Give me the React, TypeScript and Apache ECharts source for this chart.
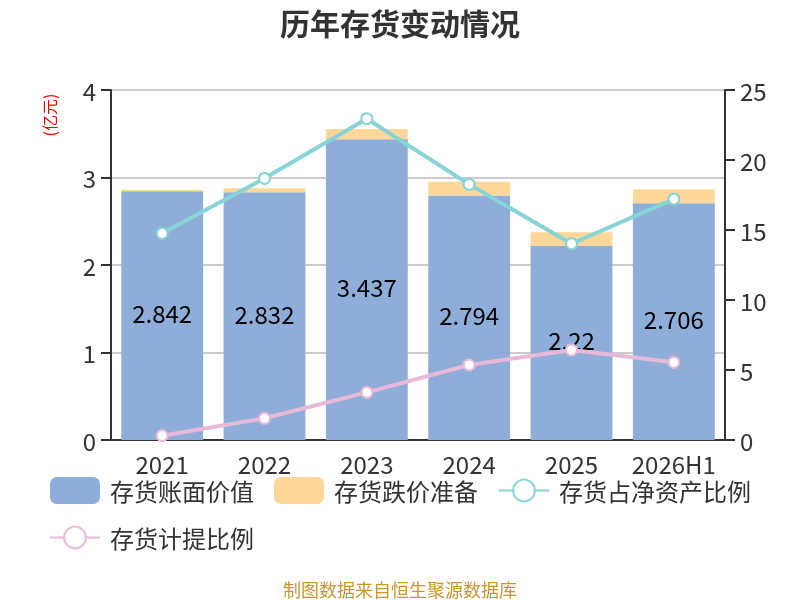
import React, { useEffect, useRef } from "react";
import * as echarts from "echarts";

const categories = ["2021", "2022", "2023", "2024", "2025", "2026H1"];
const bookValue = [2.842, 2.832, 3.437, 2.794, 2.22, 2.706];
const impairment = [0.015, 0.045, 0.117, 0.158, 0.154, 0.159];
const netAssetRatio = [14.76, 18.69, 22.95, 18.26, 14.02, 17.21];
const provisionRatio = [0.31, 1.55, 3.4, 5.36, 6.43, 5.55];
const leftTicks = { min: 0, max: 4, interval: 1 };
const rightTicks = { min: 0, max: 25, interval: 5 };

const FONT = "'Noto Sans CJK SC', 'Noto Sans', sans-serif";

export default function App() {
  const ref = useRef<HTMLDivElement>(null);
  useEffect(() => {
    if (!ref.current) return;
    const chart = echarts.init(ref.current, null, { renderer: "svg" });
    chart.setOption({
      animation: false,
      textStyle: { fontFamily: FONT },
      title: {
        text: "历年存货变动情况",
        left: "center",
        top: 2,
        textStyle: { fontSize: 30, fontWeight: "bold", color: "#333", fontFamily: FONT },
      },
      grid: { left: 111, right: 75, top: 90, bottom: 160, containLabel: false },
      legend: {
        left: "center",
        top: 472,
        width: 720,
        itemWidth: 50,
        itemHeight: 27,
        itemGap: 20,
        textStyle: { fontSize: 24, color: "#333", padding: [0, 0, 0, 5], fontFamily: FONT },
        data: ["存货账面价值", "存货跌价准备", "存货占净资产比例", "存货计提比例"],
      },
      xAxis: {
        type: "category",
        data: categories,
        axisLine: { lineStyle: { color: "#333", width: 2 } },
        axisTick: { length: 8, lineStyle: { color: "#333", width: 2 } },
        axisLabel: { fontSize: 24, color: "#333", margin: 11, interval: 0 },
      },
      yAxis: [
        {
          type: "value",
          ...leftTicks,
          axisLine: { show: true, lineStyle: { color: "#333", width: 2 } },
          axisTick: { show: true, length: 10, lineStyle: { color: "#333", width: 2 } },
          axisLabel: { fontSize: 24, color: "#333", margin: 15 },
          splitLine: { lineStyle: { color: "#ccc", width: 2 } },
        },
        {
          type: "value",
          ...rightTicks,
          axisLine: { show: true, lineStyle: { color: "#333", width: 2 } },
          axisTick: { show: true, length: 10, lineStyle: { color: "#333", width: 2 } },
          axisLabel: { fontSize: 24, color: "#333", margin: 15 },
          splitLine: { show: false },
        },
      ],
      graphic: [
        {
          type: "text",
          x: 49,
          y: 115,
          rotation: Math.PI / 2,
          style: {
            text: "(亿元)",
            fill: "#ff0000",
            fontSize: 16,
            fontFamily: FONT,
            align: "center",
            verticalAlign: "middle",
          },
        },
        {
          type: "text",
          x: 806,
          y: 104,
          rotation: Math.PI / 2,
          style: {
            text: "(%)",
            fill: "#ff0000",
            fontSize: 16,
            fontFamily: FONT,
            align: "center",
            verticalAlign: "middle",
          },
        },
        {
          type: "text",
          x: 400,
          y: 589,
          style: {
            text: "制图数据来自恒生聚源数据库",
            fill: "#c9962c",
            fontSize: 18,
            fontFamily: FONT,
            align: "center",
            verticalAlign: "middle",
          },
        },
      ],
      series: [
        {
          name: "存货账面价值",
          type: "bar",
          stack: "inv",
          barWidth: "80%",
          data: bookValue,
          itemStyle: { color: "#8eadd9" },
          label: {
            show: true,
            position: "inside",
            offset: [0, -3],
            fontSize: 24,
            color: "#000",
            formatter: (p: any) => String(p.value),
          },
        },
        {
          name: "存货跌价准备",
          type: "bar",
          stack: "inv",
          barWidth: "80%",
          data: impairment,
          itemStyle: { color: "#ffd899" },
        },
        {
          name: "存货占净资产比例",
          type: "line",
          yAxisIndex: 1,
          data: netAssetRatio,
          symbol: "circle",
          symbolSize: 11,
          lineStyle: { color: "#86d4d6", width: 4 },
          itemStyle: { color: "#fff", borderColor: "#86d4d6", borderWidth: 2 },
        },
        {
          name: "存货计提比例",
          type: "line",
          yAxisIndex: 1,
          data: provisionRatio,
          symbol: "circle",
          symbolSize: 11,
          lineStyle: { color: "#e9b9da", width: 4 },
          itemStyle: { color: "#fff", borderColor: "#e9b9da", borderWidth: 2 },
        },
      ],
    });
    return () => chart.dispose();
  }, []);
  return (
    <div
      ref={ref}
      style={{ position: "fixed", left: 0, top: 0, width: 800, height: 600 }}
    />
  );
}
